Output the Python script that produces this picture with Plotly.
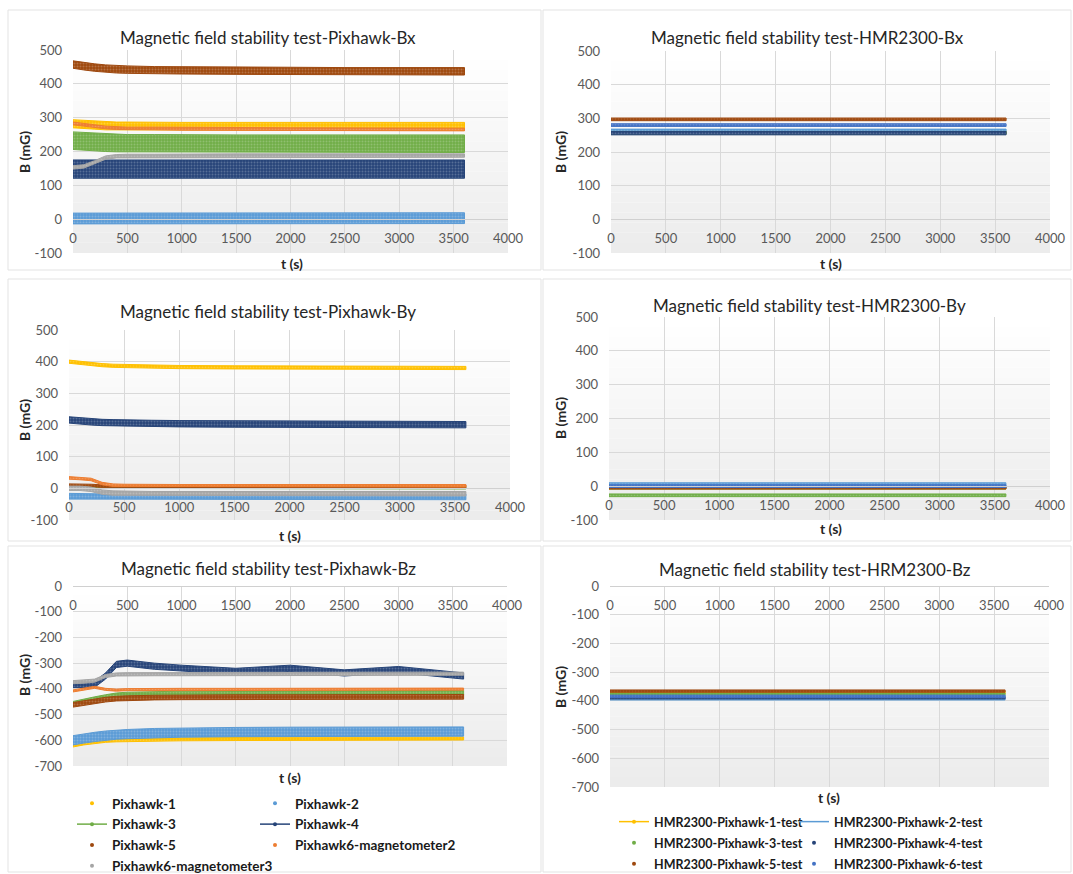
import plotly.graph_objects as go

W, H = 1073, 874
FONT = "Lato"

# ---------------- data ----------------
T_PX = [0, 100, 200, 300, 400, 500, 750, 1000, 1500, 2000, 2500, 3000, 3600]
T_HMR = [0, 3600]

PX_NAMES = ["Pixhawk-1", "Pixhawk-2", "Pixhawk-3", "Pixhawk-4", "Pixhawk-5",
            "Pixhawk6-magnetometer2", "Pixhawk6-magnetometer3"]
PX_COLORS = ["#FFC000", "#5B9BD5", "#70AD47", "#264478", "#9E480E", "#ED7D31", "#A5A5A5"]

HMR_NAMES = ["HMR2300-Pixhawk-1-test", "HMR2300-Pixhawk-2-test", "HMR2300-Pixhawk-3-test",
             "HMR2300-Pixhawk-4-test", "HMR2300-Pixhawk-5-test", "HMR2300-Pixhawk-6-test"]
HMR_COLORS = ["#FFC000", "#5B9BD5", "#70AD47", "#264478", "#9E480E", "#4472C4"]

# Pixhawk Bx: band centre values at T_PX and band half widths (mG)
PX_BX_P1 = [282, 280, 278, 276, 275, 275, 274, 274, 274, 274, 274, 274, 274]
PX_BX_P2 = [2, 2, 2, 3, 3, 3, 3, 3, 3, 3, 3, 3, 3]
PX_BX_P3 = [232, 230, 228, 226, 225, 224, 224, 223, 223, 223, 223, 223, 223]
PX_BX_P4 = [148, 148, 148, 148, 148, 148, 148, 148, 148, 148, 148, 148, 148]
PX_BX_P5 = [457, 452, 448, 445, 443, 442, 440, 440, 439, 438, 437, 437, 437]
PX_BX_M2 = [283, 280, 275, 271, 269, 268, 268, 267, 267, 266, 266, 265, 265]
PX_BX_M3 = [153, 156, 168, 182, 186, 187, 187, 188, 188, 188, 188, 188, 188]
PX_BX_HALF = [12, 16, 26, 27, 11, 4, 5]

# Pixhawk By
PX_BY_P1 = [400, 396, 392, 389, 387, 386, 384, 383, 382, 381, 380, 380, 380]
PX_BY_P2 = [-25, -26, -27, -27, -27, -27, -27, -27, -27, -27, -27, -27, -27]
PX_BY_P3 = [3, 3, 2, 1, 1, 1, 1, 1, 1, 1, 1, 1, 1]
PX_BY_P4 = [216, 213, 210, 208, 207, 206, 205, 204, 203, 202, 202, 201, 201]
PX_BY_P5 = [10, 10, 9, 7, 6, 6, 6, 6, 6, 6, 6, 6, 6]
PX_BY_M2 = [33, 31, 28, 15, 10, 9, 8, 8, 8, 8, 8, 8, 8]
PX_BY_M3 = [0, 0, -3, -12, -15, -16, -17, -17, -17, -17, -17, -17, -17]
PX_BY_HALF = [5, 9, 3, 10, 4, 4, 7]

# Pixhawk Bz
PX_BZ_P1 = [-620, -612, -606, -602, -600, -599, -597, -596, -595, -594, -594, -593, -593]
PX_BZ_P2 = [-600, -593, -587, -582, -578, -576, -572, -570, -568, -567, -566, -566, -566]
PX_BZ_P3 = [-458, -448, -440, -432, -425, -422, -420, -418, -417, -416, -415, -415, -415]
PX_BZ_P4 = [-383, -383, -382, -350, -305, -300, -312, -320, -332, -320, -338, -325, -350]
PX_BZ_P5 = [-462, -455, -448, -442, -438, -436, -434, -433, -432, -432, -432, -431, -431]
PX_BZ_M2 = [-408, -400, -394, -402, -405, -403, -402, -402, -402, -402, -402, -401, -401]
PX_BZ_M3 = [-374, -372, -368, -350, -344, -343, -343, -343, -343, -343, -343, -342, -341]
PX_BZ_HALF = [6, 18, 9, 12, 9, 4, 6]

# HMR2300 levels at T_HMR
HMR_BX = [[258, 258], [264, 264], [257, 257], [256, 256], [297, 297], [280, 280]]
HMR_BX_HALF = [4, 4, 4, 5, 4, 4]
HMR_BY = [[-5, -5], [4, 4], [-27, -27], [-4, -4], [-5, -5], [0, 0]]
HMR_BY_HALF = [4, 6, 4, 4, 3, 4]
HMR_BZ = [[-371, -371], [-393, -393], [-377, -377], [-389, -389], [-366, -366], [-384, -384]]
HMR_BZ_HALF = [4, 4, 4, 4, 4, 4]

PX_BX = [PX_BX_P1, PX_BX_P2, PX_BX_P3, PX_BX_P4, PX_BX_P5, PX_BX_M2, PX_BX_M3]
PX_BY = [PX_BY_P1, PX_BY_P2, PX_BY_P3, PX_BY_P4, PX_BY_P5, PX_BY_M2, PX_BY_M3]
PX_BZ = [PX_BZ_P1, PX_BZ_P2, PX_BZ_P3, PX_BZ_P4, PX_BZ_P5, PX_BZ_M2, PX_BZ_M3]

X_TICKS = [0, 500, 1000, 1500, 2000, 2500, 3000, 3500, 4000]
Y_TICKS_B = [-100, 0, 100, 200, 300, 400, 500]
Y_TICKS_Z = [-700, -600, -500, -400, -300, -200, -100, 0]

# ---------------- layout of the six panels (pixel boxes) ----------------
PANELS = [
    dict(x0=73, x1=508, y0=50, y1=253, yr=[-100, 500], yt=Y_TICKS_B,
         title="Magnetic field stability test-Pixhawk-Bx", tx=268, ty=37,
         ylx=24, yly=152, tlx=292, tly=263, kind="px", data=PX_BX, half=PX_BX_HALF),
    dict(x0=611, x1=1050, y0=51, y1=253, yr=[-100, 500], yt=Y_TICKS_B,
         title="Magnetic field stability test-HMR2300-Bx", tx=807, ty=37,
         ylx=560, yly=152, tlx=831, tly=263, kind="hmr", data=HMR_BX, half=HMR_BX_HALF),
    dict(x0=69, x1=510, y0=330, y1=520, yr=[-100, 500], yt=Y_TICKS_B,
         title="Magnetic field stability test-Pixhawk-By", tx=268, ty=312,
         ylx=24, yly=420, tlx=290, tly=535, kind="px", data=PX_BY, half=PX_BY_HALF),
    dict(x0=609, x1=1050, y0=317, y1=520, yr=[-100, 500], yt=Y_TICKS_B,
         title="Magnetic field stability test-HMR2300-By", tx=809, ty=305,
         ylx=560, yly=418, tlx=831, tly=528, kind="hmr", data=HMR_BY, half=HMR_BY_HALF),
    dict(x0=73, x1=507, y0=586, y1=766, yr=[-700, 0], yt=Y_TICKS_Z,
         title="Magnetic field stability test-Pixhawk-Bz", tx=268, ty=568,
         ylx=24, yly=675, tlx=290, tly=777, kind="px", data=PX_BZ, half=PX_BZ_HALF),
    dict(x0=610, x1=1049, y0=586, y1=787, yr=[-700, 0], yt=Y_TICKS_Z,
         title="Magnetic field stability test-HRM2300-Bz", tx=815, ty=569,
         ylx=560, yly=687, tlx=829, tly=797, kind="hmr", data=HMR_BZ, half=HMR_BZ_HALF),
]


def lighten(hexc, f):
    r, g, b = int(hexc[1:3], 16), int(hexc[3:5], 16), int(hexc[5:7], 16)
    r, g, b = [int(round(c + (255 - c) * f)) for c in (r, g, b)]
    return f"rgb({r},{g},{b})"


fig = go.Figure()
layout = dict(width=W, height=H, margin=dict(l=0, r=0, t=0, b=0, autoexpand=False),
              paper_bgcolor="white", plot_bgcolor="rgba(0,0,0,0)",
              font=dict(family=FONT, color="#595959", size=13), showlegend=True)
annotations = []
shapes = []


def px2x(p):
    return p / W


def px2y(p):
    return 1 - p / H


# chart-area borders
for (a, b, c, d) in [(8, 10, 541, 270), (543, 10, 1071, 270), (8, 279, 541, 541),
                     (543, 279, 1071, 541), (8, 546, 541, 872), (543, 546, 1071, 872)]:
    shapes.append(dict(type="rect", xref="paper", yref="paper", x0=px2x(a), x1=px2x(c),
                       y0=px2y(d), y1=px2y(b), line=dict(color="#e3e3e3", width=1),
                       fillcolor="rgba(0,0,0,0)", layer="below"))

NSTRIP = 20
for i, P in enumerate(PANELS):
    k = i + 1
    xa = "xaxis" if k == 1 else f"xaxis{k}"
    ya = "yaxis" if k == 1 else f"yaxis{k}"
    xr = "x" if k == 1 else f"x{k}"
    yr_ = "y" if k == 1 else f"y{k}"
    ydom = [px2y(P["y1"]), px2y(P["y0"])]
    lo, hi = P["yr"]
    zero_pos = ydom[0] + (0 - lo) / (hi - lo) * (ydom[1] - ydom[0])
    layout[xa] = dict(domain=[px2x(P["x0"]), px2x(P["x1"])], range=[0, 4000],
                      tickvals=X_TICKS, ticktext=[str(v) for v in X_TICKS],
                      anchor="free", position=zero_pos, side="bottom",
                      showgrid=True, gridcolor="#d9d9d9", gridwidth=1,
                      showline=True, linecolor="#d0d0d0", linewidth=1, zeroline=False,
                      ticks="", ticklabelstandoff=7,
                      tickfont=dict(family=FONT, size=13, color="#595959"))
    layout[ya] = dict(domain=ydom, range=[lo, hi], anchor=xr,
                      tickvals=P["yt"], ticktext=[str(v) for v in P["yt"]],
                      showgrid=True, gridcolor="#d9d9d9", gridwidth=1,
                      showline=False, zeroline=False, ticks="", ticklabelstandoff=10,
                      tickfont=dict(family=FONT, size=13, color="#595959"))
    # gradient plot area
    for s in range(NSTRIP):
        f = s / (NSTRIP - 1)
        g = int(round(236 + (255 - 236) * f))
        shapes.append(dict(type="rect", xref=f"{xr} domain", yref=f"{yr_} domain",
                           x0=0, x1=1, y0=s / NSTRIP, y1=(s + 1) / NSTRIP,
                           fillcolor=f"rgb({g},{g},{g})", line=dict(width=0), layer="below"))
    # titles
    annotations.append(dict(text=P["title"], x=px2x(P["tx"]), y=px2y(P["ty"]), xref="paper",
                            yref="paper", showarrow=False, xanchor="center", yanchor="middle",
                            font=dict(family=FONT, size=17, color="#262626")))
    annotations.append(dict(text="<b>B (mG)</b>", x=px2x(P["ylx"]), y=px2y(P["yly"]), xref="paper",
                            yref="paper", showarrow=False, textangle=-90, xanchor="center",
                            yanchor="middle", font=dict(family=FONT, size=14, color="#262626")))
    annotations.append(dict(text="<b>t (s)</b>", x=px2x(P["tlx"]), y=px2y(P["tly"]), xref="paper",
                            yref="paper", showarrow=False, xanchor="center", yanchor="middle",
                            font=dict(family=FONT, size=14, color="#262626")))
    # data bands
    if P["kind"] == "px":
        t, cols, names = T_PX, PX_COLORS, PX_NAMES
    else:
        t, cols, names = T_HMR, HMR_COLORS, HMR_NAMES
    for j, (mid, h) in enumerate(zip(P["data"], P["half"])):
        up = [m + h for m in mid]
        dn = [m - h for m in mid]
        fig.add_trace(go.Scatter(x=t + t[::-1], y=up + dn[::-1], fill="toself",
                                 fillcolor=cols[j], mode="lines",
                                 fillpattern=dict(shape=".", bgcolor=cols[j],
                                                  fgcolor=lighten(cols[j], 0.45),
                                                  size=3, solidity=0.35),
                                 line=dict(color=cols[j], width=1), name=names[j],
                                 showlegend=False, hoverinfo="skip", xaxis=xr, yaxis=yr_))

# legend-only entries
PX_LEG_MODE = ["markers", "markers", "lines+markers", "lines+markers", "markers", "markers", "markers"]
PX_LEG_BOX = ["legend", "legend2", "legend", "legend2", "legend", "legend2", "legend"]
for j, nm in enumerate(PX_NAMES):
    fig.add_trace(go.Scatter(x=[None], y=[None], mode=PX_LEG_MODE[j], name=nm,
                             marker=dict(color=PX_COLORS[j], size=4),
                             line=dict(color=PX_COLORS[j], width=1.5),
                             legend=PX_LEG_BOX[j], legendgroup=nm, xaxis="x5", yaxis="y5"))
HMR_LEG_MODE = ["lines+markers", "lines", "markers", "markers", "markers", "markers"]
HMR_LEG_BOX = ["legend3", "legend4", "legend3", "legend4", "legend3", "legend4"]
for j, nm in enumerate(HMR_NAMES):
    fig.add_trace(go.Scatter(x=[None], y=[None], mode=HMR_LEG_MODE[j], name=nm,
                             marker=dict(color=HMR_COLORS[j], size=4),
                             line=dict(color=HMR_COLORS[j], width=1.5),
                             legend=HMR_LEG_BOX[j], legendgroup=nm, xaxis="x6", yaxis="y6"))


def leg(xpx, ypx, gap, size):
    return dict(x=px2x(xpx), y=px2y(ypx), xanchor="left", yanchor="top", orientation="v",
                font=dict(family=FONT, size=size, color="#1a1a1a", weight="bold"),
                bgcolor="rgba(0,0,0,0)", borderwidth=0, tracegroupgap=gap, itemwidth=30)


layout["legend"] = leg(112 - 40, 788, 0.3, 13.5)
layout["legend2"] = leg(295 - 40, 788, 0.3, 13.5)
layout["legend3"] = leg(654 - 40, 807, 1.8, 12.5)
layout["legend4"] = leg(834 - 40, 807, 1.8, 12.5)

layout["annotations"] = annotations
layout["shapes"] = shapes
fig.update_layout(**layout)
fig.write_html("out.html")
